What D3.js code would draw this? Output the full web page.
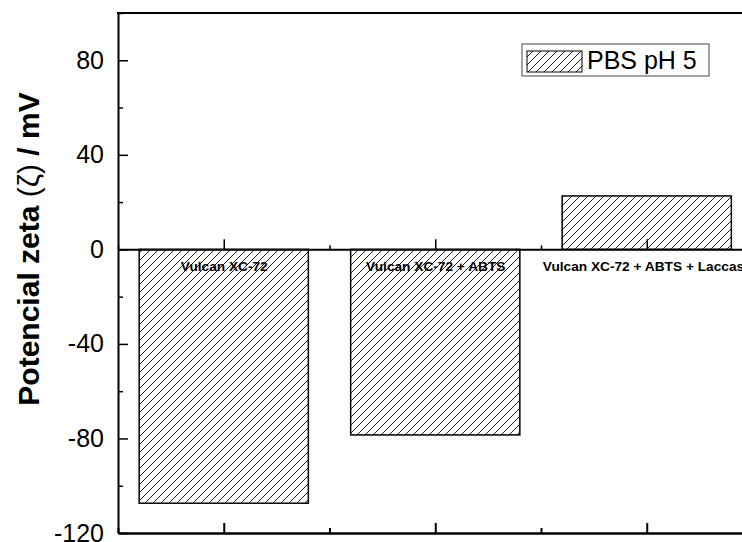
<!DOCTYPE html>
<html>
<head>
<meta charset="utf-8">
<script src="https://cdn.jsdelivr.net/npm/d3@7/dist/d3.min.js"></script>
<style>
  body { margin: 0; background: #fff; }
  #chart svg { display: block; font-family: Arial, "Liberation Sans", sans-serif; }
</style>
</head>
<body>
<div id="chart"></div>
<script>
// data
var categories = ["Vulcan XC-72", "Vulcan XC-72 + ABTS", "Vulcan XC-72 + ABTS + Laccase"];
var positions = [1, 2, 3];
var zeta = [-107.4, -78.5, 22.6];
var yMajor = [-120, -80, -40, 0, 40, 80];
var yMinor = [-100, -60, -20, 20, 60, 100];
var xMinor = [0.5, 1.5, 2.5, 3.5];
var legendLabel = "PBS pH 5";

function init(){

  var w = 742;
  var h = 542;

  var svg = d3.select("#chart")
    .append("svg")
      .attr("width", w)
      .attr("height", h);

  // hatch pattern for the bars
  var defs = svg.append("defs");
  defs.append("pattern")
      .attr("id", "hatch")
      .attr("patternUnits", "userSpaceOnUse")
      .attr("width", 8)
      .attr("height", 8)
    .append("path")
      .attr("d", "M-1,1 l2,-2 M0,8 l8,-8 M7,9 l2,-2")
      .attr("stroke", "#000")
      .attr("stroke-width", 0.9);

  // scales (plot runs past the right edge, like the original crop)
  var x = d3.scaleLinear()
      .domain([0.5, 3.5])
      .range([118, 752.5]);
  var y = d3.scaleLinear()
      .domain([-120, 100])
      .range([533, 13]);
  var barW = (x(1.4) - x(0.6));

  // bars
  svg.append("g")
    .selectAll("rect")
    .data(zeta)
    .enter().append("rect")
      .attr("x", function(d, i){ return x(positions[i]) - barW / 2; })
      .attr("y", function(d){ return y(Math.max(0, d)); })
      .attr("width", barW)
      .attr("height", function(d){ return Math.abs(y(d) - y(0)); })
      .attr("fill", "url(#hatch)")
      .attr("stroke", "#000")
      .attr("stroke-width", 1.5);

  // left axis, ticks pointing in, plain hyphen for negatives
  var left = svg.append("g")
      .attr("transform", "translate(" + x(0.5) + ",0)")
      .call(d3.axisLeft(y).tickValues(yMajor).tickSizeInner(-10).tickSizeOuter(0).tickPadding(14)
        .tickFormat(function(d){ return String(d); }));
  left.select(".domain").attr("stroke-width", 2);
  left.selectAll(".tick line").attr("stroke-width", 1.5);
  left.selectAll("text")
      .style("font-size", "25px")
      .attr("fill", "#000");
  svg.append("g")
      .attr("transform", "translate(" + x(0.5) + ",0)")
      .call(d3.axisLeft(y).tickValues(yMinor).tickSizeInner(-5).tickSizeOuter(0).tickFormat(""))
      .call(function(g){ g.select(".domain").remove(); })
      .selectAll(".tick line").attr("stroke-width", 1.5);

  // right axis (mostly cut off)
  var right = svg.append("g")
      .attr("transform", "translate(" + x(3.5) + ",0)")
      .call(d3.axisRight(y).tickValues(yMajor).tickSizeInner(-10.5).tickSizeOuter(0).tickFormat(""));
  right.select(".domain").attr("stroke-width", 2);

  // top axis line
  svg.append("line")
      .attr("x1", x(0.5) - 1)
      .attr("x2", x(3.5))
      .attr("y1", y(100))
      .attr("y2", y(100))
      .attr("stroke", "#000")
      .attr("stroke-width", 2);

  // bottom axis
  var bottom = svg.append("g")
      .attr("transform", "translate(0," + y(-120) + ")")
      .call(d3.axisBottom(x).tickValues(positions).tickSizeInner(-10).tickSizeOuter(0).tickFormat(""));
  bottom.select(".domain").attr("stroke-width", 2.5);
  bottom.selectAll(".tick line").attr("stroke-width", 2);
  svg.append("g")
      .attr("transform", "translate(0," + y(-120) + ")")
      .call(d3.axisBottom(x).tickValues(xMinor).tickSizeInner(-5).tickSizeOuter(0).tickFormat(""))
      .call(function(g){ g.select(".domain").remove(); })
      .selectAll(".tick line").attr("stroke-width", 2);

  // zero line with the category names under it
  var zero = svg.append("g")
      .attr("transform", "translate(0," + y(0) + ")")
      .call(d3.axisBottom(x).tickValues(positions).tickSizeInner(-10).tickSizeOuter(0).tickPadding(12)
        .tickFormat(function(d, i){ return categories[i]; }));
  zero.select(".domain").attr("stroke-width", 2);
  zero.selectAll(".tick line").attr("stroke-width", 1.5);
  zero.selectAll("text")
      .style("font-size", "13.7px")
      .style("font-weight", "bold")
      .attr("fill", "#000");
  svg.append("g")
      .attr("transform", "translate(0," + y(0) + ")")
      .call(d3.axisBottom(x).tickValues(xMinor).tickSizeInner(-4).tickSizeOuter(0).tickFormat(""))
      .call(function(g){ g.select(".domain").remove(); })
      .selectAll(".tick line").attr("stroke-width", 1.5);

  // y axis title
  var title = svg.append("text")
      .attr("transform", "translate(39," + 249 + ") rotate(-90)")
      .attr("text-anchor", "middle")
      .style("font-size", "30px")
      .style("font-weight", "bold");
  title.append("tspan").text("Potencial zeta ");
  title.append("tspan").style("font-weight", "normal").text("(\u03B6)");
  title.append("tspan").text(" / mV");

  // legend
  var legend = svg.append("g");
  legend.append("rect")
      .attr("x", 522)
      .attr("y", 44)
      .attr("width", 187)
      .attr("height", 32)
      .attr("fill", "#fff")
      .attr("stroke", "#444")
      .attr("stroke-width", 1);
  legend.append("rect")
      .attr("x", 527)
      .attr("y", 51)
      .attr("width", 55)
      .attr("height", 21)
      .attr("fill", "url(#hatch)")
      .attr("stroke", "#000")
      .attr("stroke-width", 1);
  legend.append("text")
      .attr("x", 587)
      .attr("y", 68.5)
      .style("font-size", "25px")
      .text(legendLabel);
}
window.onload = init;
</script>
</body>
</html>
